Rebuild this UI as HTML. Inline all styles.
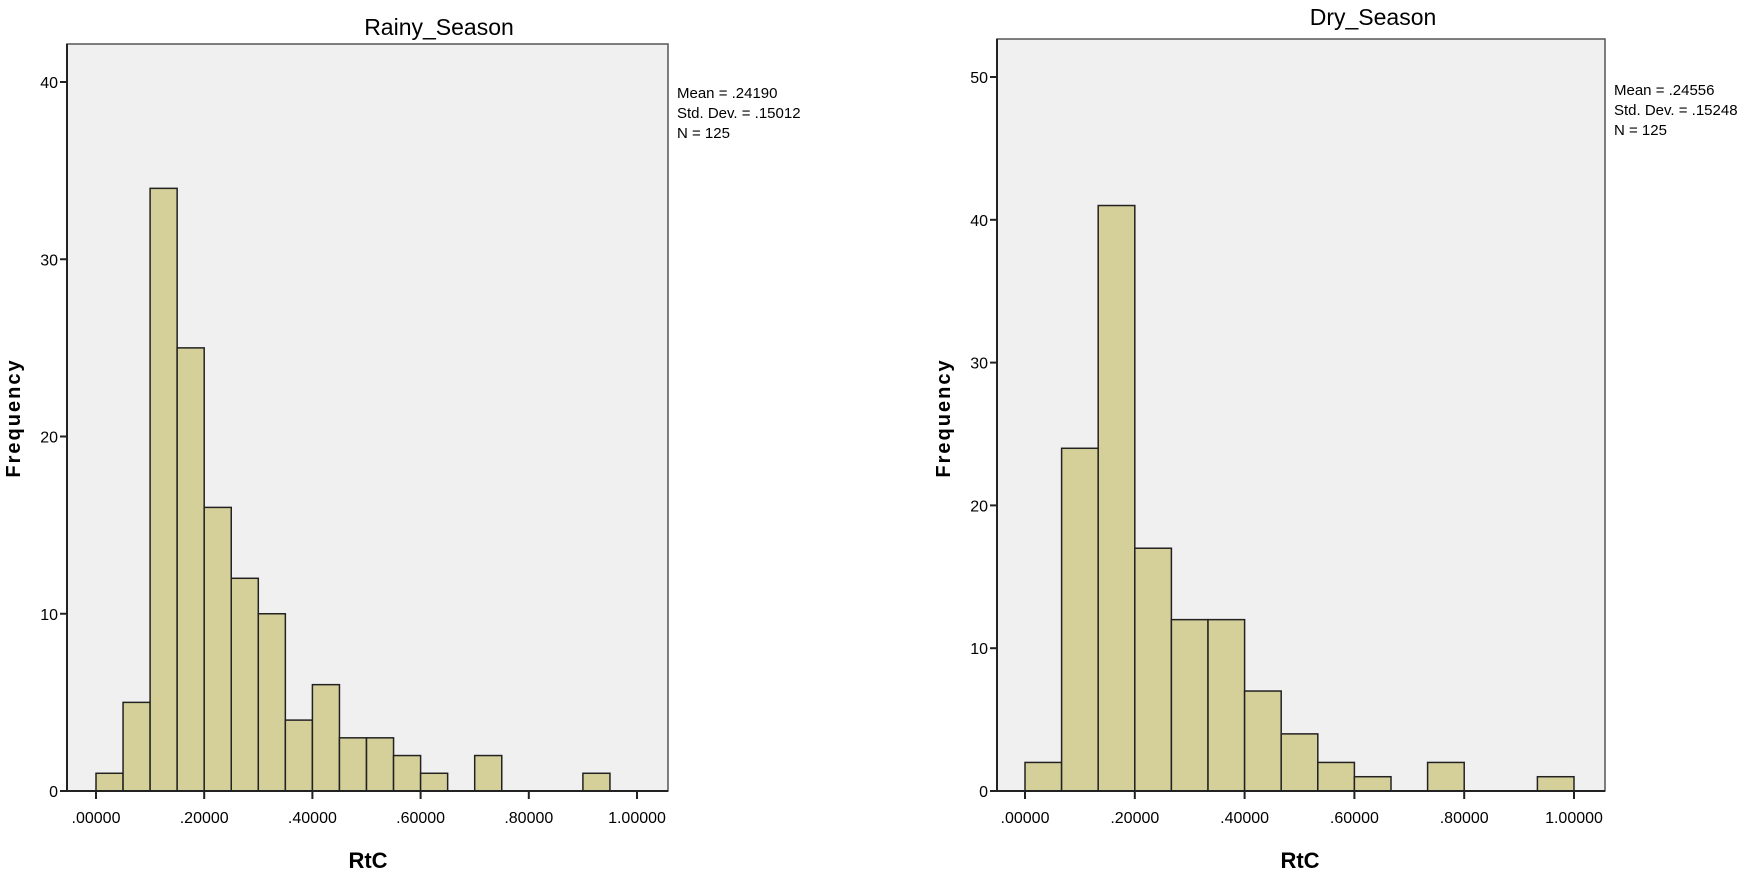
<!DOCTYPE html>
<html><head><meta charset="utf-8"><style>
body{margin:0;background:#fff;}
svg{display:block;font-family:"Liberation Sans",Arial,sans-serif;}
</style></head><body>
<svg id="chart" width="1750" height="875"></svg>
<script>
const rainyCounts=[1,5,34,25,16,12,10,4,6,3,3,2,1,0,2,0,0,0,1];
const rainyBinWidth=0.05;
const dryCounts=[2,24,41,17,12,12,7,4,2,1,0,2,0,0,1];
const dryBinWidth=1/15;
const xTickVals=[0,0.2,0.4,0.6,0.8,1.0];
const xTickLabels=[".00000",".20000",".40000",".60000",".80000","1.00000"];
const rainyYTicks=[0,10,20,30,40];
const dryYTicks=[0,10,20,30,40,50];
const rainyStats=["Mean = .24190","Std. Dev. = .15012","N = 125"];
const dryStats=["Mean = .24556","Std. Dev. = .15248","N = 125"];

const NS="http://www.w3.org/2000/svg";
const svg=document.getElementById('chart');
function mk(tag,attrs,parent){const e=document.createElementNS(NS,tag);for(const k in attrs)e.setAttribute(k,attrs[k]);(parent||svg).appendChild(e);return e;}

function panel(cfg){
  const g=mk('g',{});
  
  
  const xs=v=>cfg.x0+(v)*(cfg.x1-cfg.x0);
  const ys=v=>cfg.base-(v/cfg.yRef)*(cfg.base-cfg.yRefPx);
  const f=mk('rect',{x:cfg.left,y:cfg.top,width:cfg.right-cfg.left,height:cfg.base-cfg.top,fill:'#f0f0f0',stroke:'#555','stroke-width':1.5},g);
  
  
  const t=mk('text',{x:cfg.titleX,y:cfg.titleY,'text-anchor':'middle','font-size':23},g);
  t.textContent=cfg.title;
  
  
  cfg.counts.forEach((c,i)=>{
    if(c<=0)return;
    const r=mk('rect',{x:xs(i*cfg.bw),y:ys(c),width:xs((i+1)*cfg.bw)-xs(i*cfg.bw),height:cfg.base-ys(c),fill:'#d5d09a',stroke:'#222','stroke-width':1.5},g);
    
    
  });
  mk('line',{x1:cfg.left,x2:cfg.right,y1:cfg.base,y2:cfg.base,stroke:'#222','stroke-width':2},g);
  mk('line',{x1:cfg.left,x2:cfg.left,y1:cfg.top,y2:cfg.base,stroke:'#222','stroke-width':2},g);
  cfg.yTicks.forEach(v=>{
    mk('line',{x1:cfg.left-7,x2:cfg.left,y1:ys(v),y2:ys(v),stroke:'#222','stroke-width':2},g);
    const l=mk('text',{x:cfg.left-9,y:ys(v)+6,'text-anchor':'end','font-size':16},g);
    l.textContent=v;
    
    
  });
  xTickVals.forEach((v,i)=>{
    mk('line',{x1:xs(v),x2:xs(v),y1:cfg.base,y2:cfg.base+8,stroke:'#222','stroke-width':2},g);
    const l=mk('text',{x:xs(v),y:cfg.base+32,'text-anchor':'middle','font-size':16},g);
    l.textContent=xTickLabels[i];
    
    
  });
  const xt=mk('text',{x:cfg.xTitleX,y:868,'text-anchor':'middle','font-size':22,'font-weight':'bold'},g);
  xt.textContent='RtC';
  
  
  const yt=mk('text',{x:0,y:0,'text-anchor':'middle','font-size':20,'font-weight':'bold','letter-spacing':'2',transform:`translate(${cfg.yTitleX},${cfg.yTitleY}) rotate(-90)`},g);
  yt.textContent='Frequency';
  
  
  cfg.stats.forEach((s,i)=>{
    const l=mk('text',{x:cfg.right+9,y:cfg.statsY+i*20,'font-size':15},g);
    l.textContent=s;
    
    
  });
}
panel({name:'rainy-season-histogram',title:'Rainy_Season',titleX:439,titleY:35,left:67,right:668,top:44,base:791,
  x0:96,x1:637,yRef:40,yRefPx:82,counts:rainyCounts,bw:rainyBinWidth,yTicks:rainyYTicks,stats:rainyStats,statsY:98,
  xTitleX:368,yTitleX:20,yTitleY:418});
panel({name:'dry-season-histogram',title:'Dry_Season',titleX:1373,titleY:25,left:997,right:1605,top:39,base:791,
  x0:1025,x1:1574,yRef:50,yRefPx:77,counts:dryCounts,bw:dryBinWidth,yTicks:dryYTicks,stats:dryStats,statsY:95,
  xTitleX:1300,yTitleX:950,yTitleY:418});
</script>
</body></html>
